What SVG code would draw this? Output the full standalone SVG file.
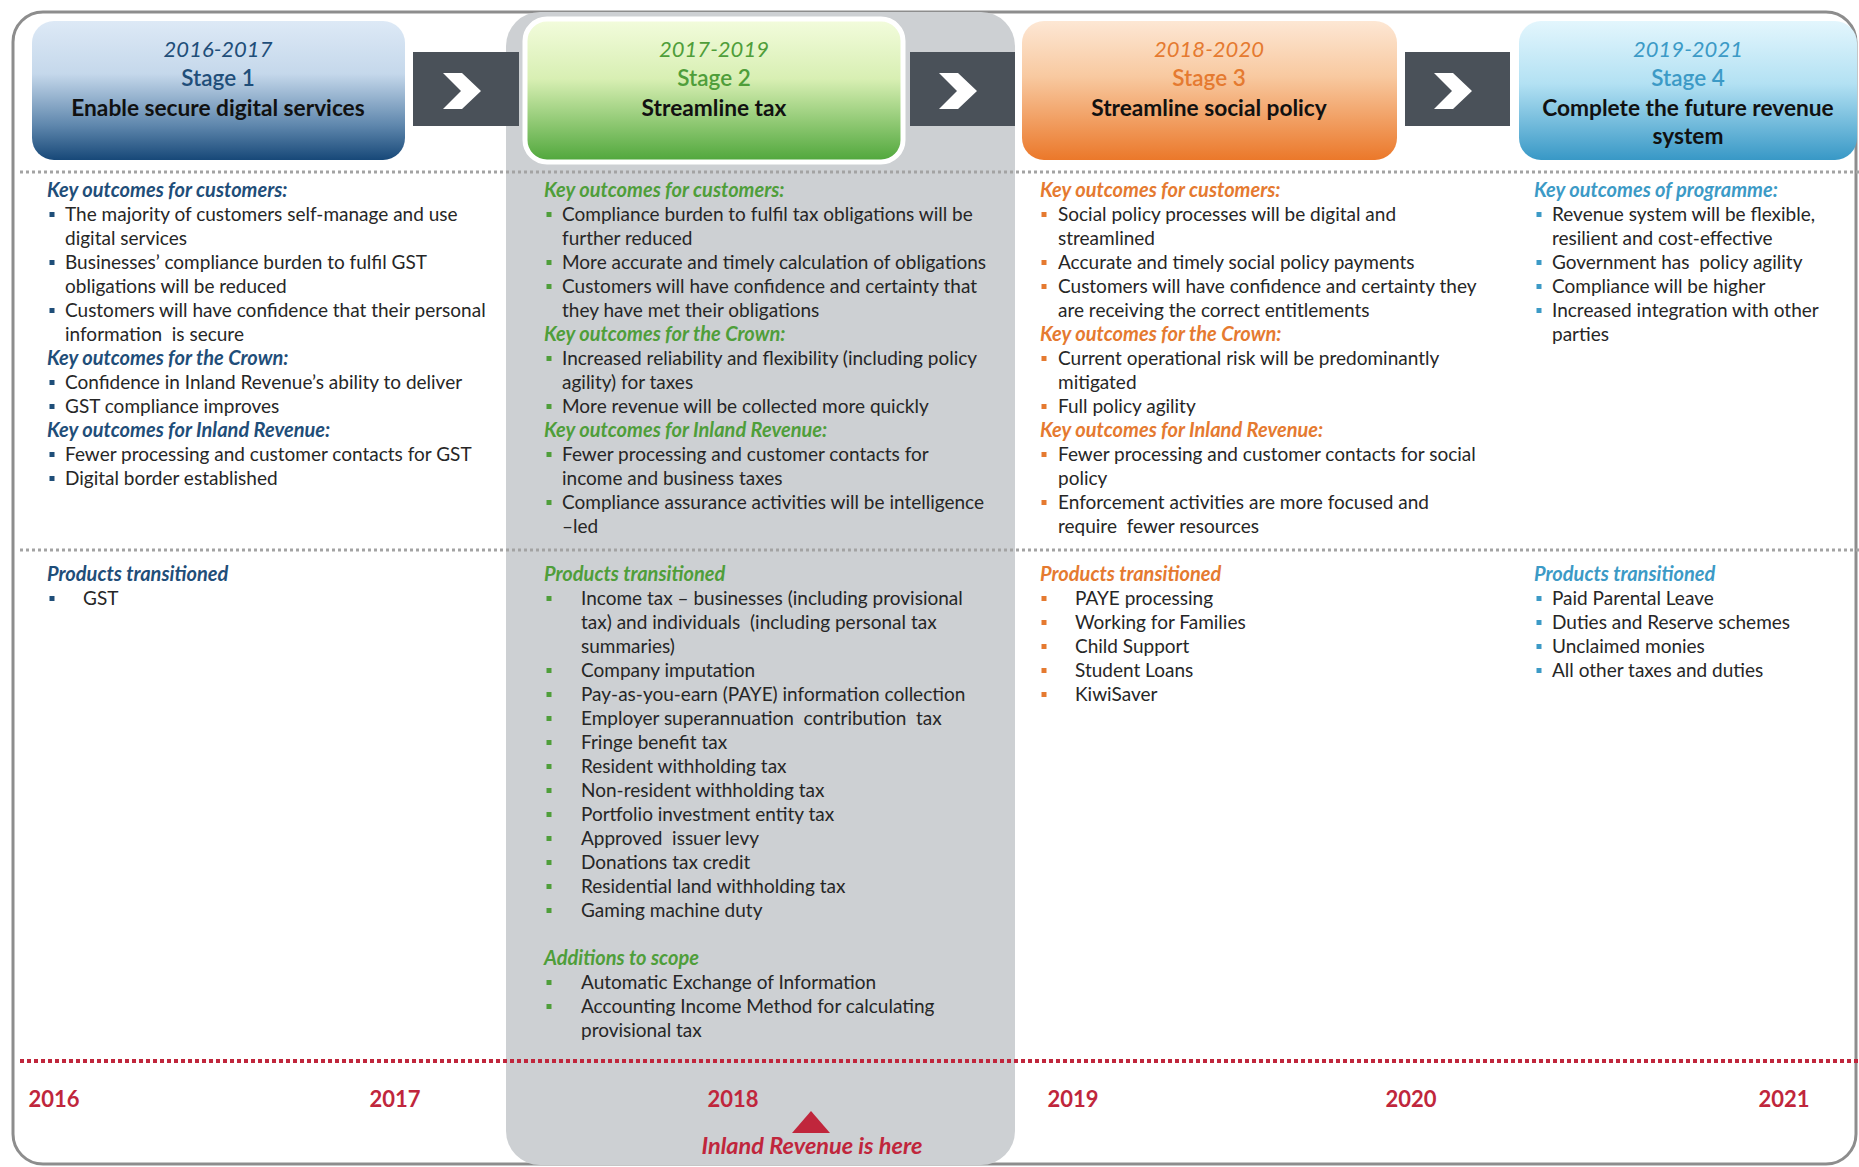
<svg xmlns="http://www.w3.org/2000/svg" xmlns:xlink="http://www.w3.org/1999/xlink" width="1859" height="1167" viewBox="0 0 1859 1167">
  <defs>
    <linearGradient id="g1" x1="0" y1="0" x2="0" y2="1">
      <stop offset="0" stop-color="#dde9f6"/>
      <stop offset="0.38" stop-color="#c5d8eb"/>
      <stop offset="0.75" stop-color="#5f87ad"/>
      <stop offset="1" stop-color="#174878"/>
    </linearGradient>
    <linearGradient id="g2" x1="0" y1="0" x2="0" y2="1">
      <stop offset="0" stop-color="#f3fcdd"/>
      <stop offset="0.42" stop-color="#d8efb3"/>
      <stop offset="1" stop-color="#4ea63a"/>
    </linearGradient>
    <linearGradient id="g3" x1="0" y1="0" x2="0" y2="1">
      <stop offset="0" stop-color="#fde7d4"/>
      <stop offset="0.4" stop-color="#f8c9a0"/>
      <stop offset="1" stop-color="#eb782a"/>
    </linearGradient>
    <linearGradient id="g4" x1="0" y1="0" x2="0" y2="1">
      <stop offset="0" stop-color="#e3f6fd"/>
      <stop offset="0.45" stop-color="#b3e1f3"/>
      <stop offset="1" stop-color="#3898c6"/>
    </linearGradient>
    <path id="chev" d="M-23,-18 L-4,-18 L15,0 L-4,18 L-23,18 L-5,0 Z"/>
  </defs>
  <style>
    text { font-family: Lato, "Open Sans", "Liberation Sans", sans-serif; white-space: pre; }
    .body { font-size: 19px; fill: #262626; }
    .hd { font-size: 20px; font-weight: bold; font-style: italic; }
    .date { font-size: 22px; font-style: italic; text-anchor: middle; }
    .stage { font-size: 22.5px; font-weight: 600; text-anchor: middle; }
    .title { font-size: 22.7px; font-weight: bold; fill: #111; text-anchor: middle; }
    .c1 { fill: #1f4e79; }
    .c2 { fill: #4f9e3a; }
    .c3 { fill: #e57a30; }
    .c4 { fill: #3c9ac6; }
    .year { font-size: 22px; font-weight: bold; fill: #c0263c; text-anchor: middle; }
    .sep { stroke: #a3a3a3; stroke-width: 3; stroke-dasharray: 3 3; fill: none; }
    .redsep { stroke: #c0263c; stroke-width: 4; stroke-dasharray: 4 3; fill: none; }
    .arrowbox { fill: #4a5159; }
    .chev { fill: #ffffff; }
  </style>

  <rect width="1859" height="1167" fill="#ffffff"/>

  <!-- outer frame -->
  <rect id="frame" x="13" y="12" width="1843" height="1152" rx="30" ry="30" fill="none" stroke="#8d8d8d" stroke-width="3"/>

  <!-- current-stage highlight column -->
  <rect id="current-column" x="506" y="12" width="509" height="1153" rx="34" ry="34" fill="#cdd0d3"/>

  <!-- separators -->
  <line class="sep" x1="20" y1="172" x2="1859" y2="172"/>
  <line class="sep" x1="20" y1="550" x2="1859" y2="550"/>
  <line class="redsep" x1="20" y1="1061" x2="1859" y2="1061"/>

  <!-- stage headers -->
  <g id="stage1">
    <rect x="32" y="21" width="373" height="139" rx="22" ry="22" fill="url(#g1)"/>
    <text class="date c1" x="218" y="57">2016-2017</text>
    <text class="stage c1" x="218" y="86">Stage 1</text>
    <text class="title" x="218" y="116">Enable secure digital services</text>
  </g>
  <g id="stage2">
    <rect x="525" y="19" width="378" height="143" rx="22" ry="22" fill="url(#g2)" stroke="#ffffff" stroke-width="5"/>
    <text class="date c2" x="714" y="57">2017-2019</text>
    <text class="stage c2" x="714" y="86">Stage 2</text>
    <text class="title" x="714" y="116">Streamline tax</text>
  </g>
  <g id="stage3">
    <rect x="1022" y="21" width="375" height="139" rx="22" ry="22" fill="url(#g3)"/>
    <text class="date c3" x="1209" y="57">2018-2020</text>
    <text class="stage c3" x="1209" y="86">Stage 3</text>
    <text class="title" x="1209" y="116">Streamline social policy</text>
  </g>
  <g id="stage4">
    <rect x="1519" y="21" width="338" height="139" rx="22" ry="22" fill="url(#g4)"/>
    <text class="date c4" x="1688" y="57">2019-2021</text>
    <text class="stage c4" x="1688" y="86">Stage 4</text>
    <text class="title" x="1688" y="116">Complete the future revenue</text>
    <text class="title" x="1688" y="144">system</text>
  </g>

  <!-- chevron connectors between stages -->
  <g id="connectors">
    <rect class="arrowbox" x="413" y="52" width="106" height="74"/>
    <use class="chev" href="#chev" xlink:href="#chev" transform="translate(466,91)"/>
    <rect class="arrowbox" x="910" y="52" width="105" height="74"/>
    <use class="chev" href="#chev" xlink:href="#chev" transform="translate(962,91)"/>
    <rect class="arrowbox" x="1405" y="52" width="105" height="74"/>
    <use class="chev" href="#chev" xlink:href="#chev" transform="translate(1457,91)"/>
  </g>

  <!-- stage 1 outcomes -->
  <g id="outcomes1">
    <text class="hd c1" x="47" y="197">Key outcomes for customers:</text>
    <rect class="c1" x="49.5" y="212" width="5" height="5"/>
    <text class="body" x="65" y="221">The majority of customers self-manage and use</text>
    <text class="body" x="65" y="245">digital services</text>
    <rect class="c1" x="49.5" y="260" width="5" height="5"/>
    <text class="body" x="65" y="269">Businesses’ compliance burden to fulfil GST</text>
    <text class="body" x="65" y="293">obligations will be reduced</text>
    <rect class="c1" x="49.5" y="308" width="5" height="5"/>
    <text class="body" x="65" y="317">Customers will have confidence that their personal</text>
    <text class="body" x="65" y="341">information  is secure</text>
    <text class="hd c1" x="47" y="365">Key outcomes for the Crown:</text>
    <rect class="c1" x="49.5" y="380" width="5" height="5"/>
    <text class="body" x="65" y="389">Confidence in Inland Revenue’s ability to deliver</text>
    <rect class="c1" x="49.5" y="404" width="5" height="5"/>
    <text class="body" x="65" y="413">GST compliance improves</text>
    <text class="hd c1" x="47" y="437">Key outcomes for Inland Revenue:</text>
    <rect class="c1" x="49.5" y="452" width="5" height="5"/>
    <text class="body" x="65" y="461">Fewer processing and customer contacts for GST</text>
    <rect class="c1" x="49.5" y="476" width="5" height="5"/>
    <text class="body" x="65" y="485">Digital border established</text>
  </g>

  <!-- stage 2 outcomes -->
  <g id="outcomes2">
    <text class="hd c2" x="544" y="197">Key outcomes for customers:</text>
    <rect class="c2" x="546.5" y="212" width="5" height="5"/>
    <text class="body" x="562" y="221">Compliance burden to fulfil tax obligations will be</text>
    <text class="body" x="562" y="245">further reduced</text>
    <rect class="c2" x="546.5" y="260" width="5" height="5"/>
    <text class="body" x="562" y="269">More accurate and timely calculation of obligations</text>
    <rect class="c2" x="546.5" y="284" width="5" height="5"/>
    <text class="body" x="562" y="293">Customers will have confidence and certainty that</text>
    <text class="body" x="562" y="317">they have met their obligations</text>
    <text class="hd c2" x="544" y="341">Key outcomes for the Crown:</text>
    <rect class="c2" x="546.5" y="356" width="5" height="5"/>
    <text class="body" x="562" y="365">Increased reliability and flexibility (including policy</text>
    <text class="body" x="562" y="389">agility) for taxes</text>
    <rect class="c2" x="546.5" y="404" width="5" height="5"/>
    <text class="body" x="562" y="413">More revenue will be collected more quickly</text>
    <text class="hd c2" x="544" y="437">Key outcomes for Inland Revenue:</text>
    <rect class="c2" x="546.5" y="452" width="5" height="5"/>
    <text class="body" x="562" y="461">Fewer processing and customer contacts for</text>
    <text class="body" x="562" y="485">income and business taxes</text>
    <rect class="c2" x="546.5" y="500" width="5" height="5"/>
    <text class="body" x="562" y="509">Compliance assurance activities will be intelligence</text>
    <text class="body" x="562" y="533">–led</text>
  </g>

  <!-- stage 3 outcomes -->
  <g id="outcomes3">
    <text class="hd c3" x="1040" y="197">Key outcomes for customers:</text>
    <rect class="c3" x="1041.5" y="212" width="5" height="5"/>
    <text class="body" x="1058" y="221">Social policy processes will be digital and</text>
    <text class="body" x="1058" y="245">streamlined</text>
    <rect class="c3" x="1041.5" y="260" width="5" height="5"/>
    <text class="body" x="1058" y="269">Accurate and timely social policy payments</text>
    <rect class="c3" x="1041.5" y="284" width="5" height="5"/>
    <text class="body" x="1058" y="293">Customers will have confidence and certainty they</text>
    <text class="body" x="1058" y="317">are receiving the correct entitlements</text>
    <text class="hd c3" x="1040" y="341">Key outcomes for the Crown:</text>
    <rect class="c3" x="1041.5" y="356" width="5" height="5"/>
    <text class="body" x="1058" y="365">Current operational risk will be predominantly</text>
    <text class="body" x="1058" y="389">mitigated</text>
    <rect class="c3" x="1041.5" y="404" width="5" height="5"/>
    <text class="body" x="1058" y="413">Full policy agility</text>
    <text class="hd c3" x="1040" y="437">Key outcomes for Inland Revenue:</text>
    <rect class="c3" x="1041.5" y="452" width="5" height="5"/>
    <text class="body" x="1058" y="461">Fewer processing and customer contacts for social</text>
    <text class="body" x="1058" y="485">policy</text>
    <rect class="c3" x="1041.5" y="500" width="5" height="5"/>
    <text class="body" x="1058" y="509">Enforcement activities are more focused and</text>
    <text class="body" x="1058" y="533">require  fewer resources</text>
  </g>

  <!-- stage 4 outcomes -->
  <g id="outcomes4">
    <text class="hd c4" x="1534" y="197">Key outcomes of programme:</text>
    <rect class="c4" x="1536.5" y="212" width="5" height="5"/>
    <text class="body" x="1552" y="221">Revenue system will be flexible,</text>
    <text class="body" x="1552" y="245">resilient and cost-effective</text>
    <rect class="c4" x="1536.5" y="260" width="5" height="5"/>
    <text class="body" x="1552" y="269">Government has  policy agility</text>
    <rect class="c4" x="1536.5" y="284" width="5" height="5"/>
    <text class="body" x="1552" y="293">Compliance will be higher</text>
    <rect class="c4" x="1536.5" y="308" width="5" height="5"/>
    <text class="body" x="1552" y="317">Increased integration with other</text>
    <text class="body" x="1552" y="341">parties</text>
  </g>

  <!-- products transitioned -->
  <g id="products1">
    <text class="hd c1" x="47" y="581">Products transitioned</text>
    <rect class="c1" x="49.5" y="596" width="5" height="5"/>
    <text class="body" x="83" y="605">GST</text>
  </g>

  <g id="products2">
    <text class="hd c2" x="544" y="581">Products transitioned</text>
    <rect class="c2" x="546.5" y="596" width="5" height="5"/>
    <text class="body" x="581" y="605">Income tax – businesses (including provisional</text>
    <text class="body" x="581" y="629">tax) and individuals  (including personal tax</text>
    <text class="body" x="581" y="653">summaries)</text>
    <rect class="c2" x="546.5" y="668" width="5" height="5"/>
    <text class="body" x="581" y="677">Company imputation</text>
    <rect class="c2" x="546.5" y="692" width="5" height="5"/>
    <text class="body" x="581" y="701">Pay-as-you-earn (PAYE) information collection</text>
    <rect class="c2" x="546.5" y="716" width="5" height="5"/>
    <text class="body" x="581" y="725">Employer superannuation  contribution  tax</text>
    <rect class="c2" x="546.5" y="740" width="5" height="5"/>
    <text class="body" x="581" y="749">Fringe benefit tax</text>
    <rect class="c2" x="546.5" y="764" width="5" height="5"/>
    <text class="body" x="581" y="773">Resident withholding tax</text>
    <rect class="c2" x="546.5" y="788" width="5" height="5"/>
    <text class="body" x="581" y="797">Non-resident withholding tax</text>
    <rect class="c2" x="546.5" y="812" width="5" height="5"/>
    <text class="body" x="581" y="821">Portfolio investment entity tax</text>
    <rect class="c2" x="546.5" y="836" width="5" height="5"/>
    <text class="body" x="581" y="845">Approved  issuer levy</text>
    <rect class="c2" x="546.5" y="860" width="5" height="5"/>
    <text class="body" x="581" y="869">Donations tax credit</text>
    <rect class="c2" x="546.5" y="884" width="5" height="5"/>
    <text class="body" x="581" y="893">Residential land withholding tax</text>
    <rect class="c2" x="546.5" y="908" width="5" height="5"/>
    <text class="body" x="581" y="917">Gaming machine duty</text>
    <text class="hd c2" x="544" y="965">Additions to scope</text>
    <rect class="c2" x="546.5" y="980" width="5" height="5"/>
    <text class="body" x="581" y="989">Automatic Exchange of Information</text>
    <rect class="c2" x="546.5" y="1004" width="5" height="5"/>
    <text class="body" x="581" y="1013">Accounting Income Method for calculating</text>
    <text class="body" x="581" y="1037">provisional tax</text>
  </g>

  <g id="products3">
    <text class="hd c3" x="1040" y="581">Products transitioned</text>
    <rect class="c3" x="1041.5" y="596" width="5" height="5"/>
    <text class="body" x="1075" y="605">PAYE processing</text>
    <rect class="c3" x="1041.5" y="620" width="5" height="5"/>
    <text class="body" x="1075" y="629">Working for Families</text>
    <rect class="c3" x="1041.5" y="644" width="5" height="5"/>
    <text class="body" x="1075" y="653">Child Support</text>
    <rect class="c3" x="1041.5" y="668" width="5" height="5"/>
    <text class="body" x="1075" y="677">Student Loans</text>
    <rect class="c3" x="1041.5" y="692" width="5" height="5"/>
    <text class="body" x="1075" y="701">KiwiSaver</text>
  </g>

  <g id="products4">
    <text class="hd c4" x="1534" y="581">Products transitioned</text>
    <rect class="c4" x="1536.5" y="596" width="5" height="5"/>
    <text class="body" x="1552" y="605">Paid Parental Leave</text>
    <rect class="c4" x="1536.5" y="620" width="5" height="5"/>
    <text class="body" x="1552" y="629">Duties and Reserve schemes</text>
    <rect class="c4" x="1536.5" y="644" width="5" height="5"/>
    <text class="body" x="1552" y="653">Unclaimed monies</text>
    <rect class="c4" x="1536.5" y="668" width="5" height="5"/>
    <text class="body" x="1552" y="677">All other taxes and duties</text>
  </g>

  <!-- timeline -->
  <g id="timeline">
    <text class="year" x="54" y="1107">2016</text>
    <text class="year" x="395" y="1107">2017</text>
    <text class="year" x="733" y="1107">2018</text>
    <text class="year" x="1073" y="1107">2019</text>
    <text class="year" x="1411" y="1107">2020</text>
    <text class="year" x="1784" y="1107">2021</text>
  </g>

  <g id="marker-here">
    <polygon points="811,1111 830,1133 792,1133" fill="#c0263c"/>
    <text x="812" y="1154" text-anchor="middle" font-size="23.5" font-weight="bold" font-style="italic" fill="#c0263c">Inland Revenue is here</text>
  </g>
</svg>
